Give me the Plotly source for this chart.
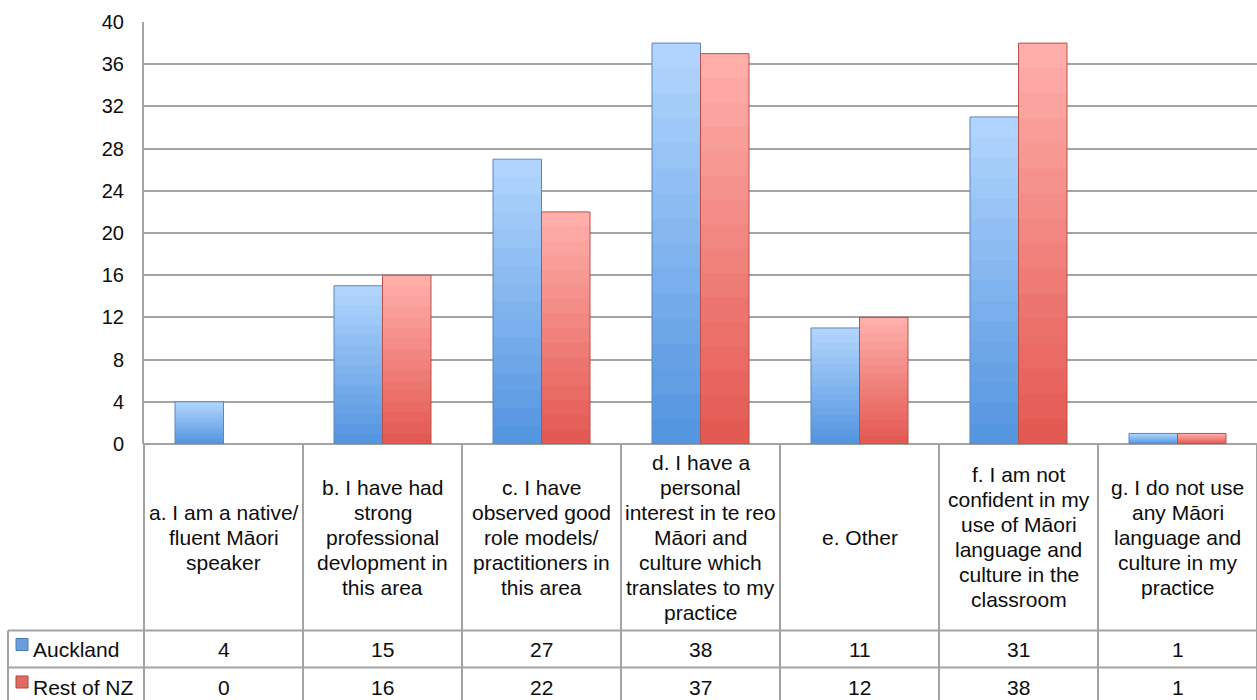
import plotly.graph_objects as go

# ---- data ----
categories = [
    "a. I am a native/<br>fluent Māori<br>speaker",
    "b. I have had<br>strong<br>professional<br>devlopment in<br>this area",
    "c. I have<br>observed good<br>role models/<br>practitioners in<br>this area",
    "d. I have a<br>personal<br>interest in te reo<br>Māori and<br>culture which<br>translates to my<br>practice",
    "e. Other",
    "f. I am not<br>confident in my<br>use of Māori<br>language and<br>culture in the<br>classroom",
    "g. I do not use<br>any Māori<br>language and<br>culture in my<br>practice",
]
auckland = [4, 15, 27, 38, 11, 31, 1]
rest_of_nz = [0, 16, 22, 37, 12, 38, 1]
series_names = ["Auckland", "Rest of NZ"]
y_ticks = [0, 4, 8, 12, 16, 20, 24, 28, 32, 36, 40]

# ---- page geometry ----
W, H = 1257, 700
M_L, M_R, M_T, M_B = 144, 0, 22, 256
PLOT_W = W - M_L - M_R
PLOT_H = H - M_T - M_B
FONT = "Liberation Sans, Arial, sans-serif"
GRID = "#a3a3a3"
TEXT = "#0d0d0d"


def px_x(px):
    return (px - M_L) / PLOT_W


def px_y(py):
    return (H - M_B - py) / PLOT_H


def blend(c1, c2, t):
    a = [int(c1[i:i + 2], 16) for i in (1, 3, 5)]
    b = [int(c2[i:i + 2], 16) for i in (1, 3, 5)]
    return "rgb(%d,%d,%d)" % tuple(round(a[i] + (b[i] - a[i]) * t) for i in range(3))


styles = {
    "Auckland": dict(top="#b0d4fd", bottom="#5596e0", edge="#5b87bf", key="#6a9fdc", key_edge="#4a7ab8"),
    "Rest of NZ": dict(top="#ffaeaa", bottom="#e35a52", edge="#b9504b", key="#e06a64", key_edge="#b5453f"),
}

fig = go.Figure()

# bars with a top-to-bottom shading: layers drawn in place within one offset group
LAYERS = 16
for name, vals in zip(series_names, [auckland, rest_of_nz]):
    st = styles[name]
    for k in range(LAYERS):
        frac = (LAYERS - k) / LAYERS
        fig.add_trace(go.Bar(
            x=categories, y=[v * frac for v in vals], offsetgroup=name,
            marker=dict(color=blend(st["top"], st["bottom"], k / (LAYERS - 1)), line=dict(width=0)),
            hoverinfo="skip", showlegend=False,
        ))
    fig.add_trace(go.Bar(
        x=categories, y=vals, offsetgroup=name, name=name,
        marker=dict(color="rgba(0,0,0,0)",
                    line=dict(color=st["edge"], width=[1 if v else 0 for v in vals])),
        showlegend=False,
    ))

shapes = []
annotations = []

# data table grid
line = dict(color=GRID, width=2)
n = len(categories)
for i in range(n + 1):
    x = i / n
    shapes.append(dict(type="line", xref="paper", yref="paper", x0=x, x1=x,
                       y0=px_y(444), y1=px_y(700), line=line))
shapes.append(dict(type="line", xref="paper", yref="paper", x0=px_x(8), x1=px_x(8),
                   y0=px_y(630.5), y1=px_y(700), line=line))
for yy in (630.5, 667.5):
    shapes.append(dict(type="line", xref="paper", yref="paper", x0=px_x(8), x1=1,
                       y0=px_y(yy), y1=px_y(yy), line=line))

# category labels, centred in their cells
LINE_H = 25
for cat in categories:
    lines = cat.split("<br>")
    m = len(lines)
    for j, t in enumerate(lines):
        annotations.append(dict(
            x=cat, xref="x", y=px_y(537), yref="paper",
            yshift=-(j - (m - 1) / 2) * LINE_H,
            text=t, showarrow=False, xanchor="center", yanchor="middle",
            font=dict(family=FONT, size=21, color=TEXT),
        ))

# table rows: legend keys, series names and values
row_centres = [649.5, 687.0]
for name, vals, yc in zip(series_names, [auckland, rest_of_nz], row_centres):
    st = styles[name]
    shapes.append(dict(type="rect", xref="paper", yref="paper",
                       x0=px_x(16), x1=px_x(28), y0=px_y(yc - 11), y1=px_y(yc + 1),
                       fillcolor=st["key"], line=dict(color=st["key_edge"], width=1)))
    annotations.append(dict(
        x=px_x(31), xref="paper", y=px_y(yc), yref="paper", text=name,
        showarrow=False, xanchor="left", yanchor="middle",
        font=dict(family=FONT, size=21, color=TEXT),
    ))
    for cat, v in zip(categories, vals):
        annotations.append(dict(
            x=cat, xref="x", y=px_y(yc), yref="paper", text=str(v),
            showarrow=False, xanchor="center", yanchor="middle",
            font=dict(family=FONT, size=21, color=TEXT),
        ))

fig.update_layout(
    width=W, height=H, autosize=False,
    margin=dict(l=M_L, r=M_R, t=M_T, b=M_B, pad=0),
    paper_bgcolor="white", plot_bgcolor="white",
    barmode="group", bargap=0.39, bargroupgap=0,
    showlegend=False,
    shapes=shapes, annotations=annotations,
    font=dict(family=FONT, color=TEXT),
)
fig.update_xaxes(showticklabels=False, ticks="", showgrid=False, zeroline=False,
                 showline=False, range=[-0.5, n - 0.5])
fig.update_yaxes(range=[0, 40], tickvals=y_ticks, showgrid=True, gridcolor=GRID, gridwidth=2,
                 zeroline=True, zerolinecolor=GRID, zerolinewidth=2,
                 showline=True, linecolor=GRID, linewidth=2, ticks="",
                 ticklabelstandoff=14, tickfont=dict(family=FONT, size=20, color=TEXT))

fig.write_html("out.html")
